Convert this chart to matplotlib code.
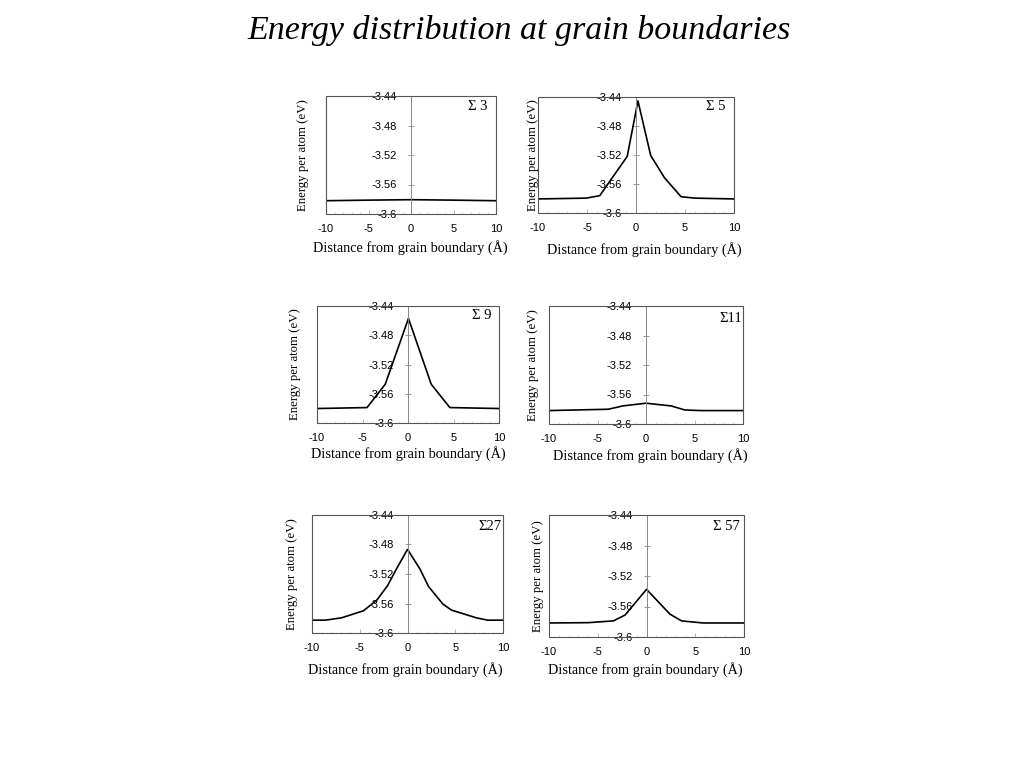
import matplotlib
matplotlib.use("Agg")
import matplotlib.pyplot as plt
from matplotlib.patches import Rectangle

plt.rcParams['axes.unicode_minus'] = False

title = "Energy distribution at grain boundaries"
xlabel = "Distance from grain boundary (Å)"
ylabel = "Energy per atom (eV)"
yticks = [-3.6, -3.56, -3.52, -3.48, -3.44]
ytick_labels = ["-3.6", "-3.56", "-3.52", "-3.48", "-3.44"]
xticks = [-10, -5, 0, 5, 10]
xtick_labels = ["-10", "-5", "0", "5", "10"]

labels = ["Σ 3", "Σ 5", "Σ 9", "Σ11", "Σ27", "Σ 57"]

x_s3 = [-10, -5, 0, 5, 10]
y_s3 = [-3.582, -3.5812, -3.5806, -3.5812, -3.582]

x_s5 = [-10, -5.1, -3.7, -0.9, 0.2, 1.5, 2.9, 4.6, 6.0, 10]
y_s5 = [-3.5806, -3.5795, -3.5761, -3.522, -3.4454, -3.5207, -3.5513, -3.5775, -3.5795, -3.5806]

x_s9 = [-10, -4.5, -2.5, 0.05, 2.55, 4.6, 10]
y_s9 = [-3.5802, -3.5789, -3.547, -3.457, -3.547, -3.5789, -3.5802]

x_s11 = [-10, -3.9, -2.4, 0.0, 2.6, 4.0, 5.7, 10]
y_s11 = [-3.5818, -3.58, -3.5755, -3.5718, -3.5755, -3.581, -3.5818, -3.5818]

x_s27 = [-10, -8.6, -6.9, -4.6, -3.2, -2.1, -1.1, 0.0, 1.3, 2.2, 3.7, 4.6, 7.2, 8.4, 10]
y_s27 = [-3.5826, -3.5826, -3.5794, -3.5698, -3.5552, -3.536, -3.5118, -3.4866,
         -3.5131, -3.5369, -3.5607, -3.5689, -3.5794, -3.5826, -3.5826]

x_s57 = [-10, -6.0, -3.4, -2.2, 0.0, 2.4, 3.6, 5.8, 10]
y_s57 = [-3.5816, -3.5812, -3.5789, -3.5712, -3.5375, -3.57, -3.5789, -3.5816, -3.5816]

series = [(x_s3, y_s3), (x_s5, y_s5), (x_s9, y_s9), (x_s11, y_s11), (x_s27, y_s27), (x_s57, y_s57)]

# layout (pixels)
boxes = [(326, 496, 96, 214), (538, 734, 97, 213),
         (317, 499, 306, 423), (549, 743, 306, 424),
         (312, 503, 515, 633), (549, 744, 515, 637)]
ylab_x = [303, 533, 295, 533, 292, 538]
xlab_pos = [(410, 248), (644, 250), (408, 454), (650, 456), (405, 670), (645, 670)]
sig_right = [488, 726, 492, 742, 501, 740]
sig_y = [107, 106, 316, 318, 526, 526]

W, H = 1024, 768
fig = plt.figure(figsize=(W / 100, H / 100), dpi=100)
fig.text(519 / W, 1 - 30 / H, title, ha='center', va='center', fontsize=24.5,
         family='Liberation Serif', style='italic')

for i, ((l, r, t, b), (xs, ys), lab) in enumerate(zip(boxes, series, labels)):
    ax = fig.add_axes([l / W, 1 - b / H, (r - l) / W, (b - t) / H])
    ax.set_xlim(-10, 10)
    ax.set_ylim(-3.6, -3.44)
    ax.plot(xs, ys, color='black', lw=1.2)
    for s in ['top', 'right', 'bottom']:
        ax.spines[s].set_visible(False)
    ax.spines['left'].set_position(('data', 0))
    ax.spines['left'].set_color('#888888')
    ax.spines['left'].set_linewidth(0.7)
    ax.add_patch(Rectangle((0, 0), 1, 1, transform=ax.transAxes, fill=False,
                           edgecolor='#555555', lw=0.8, clip_on=False, zorder=5))
    ax.set_yticks(yticks)
    ax.set_yticklabels(ytick_labels, family='Liberation Sans', fontsize=8)
    ax.tick_params(axis='y', direction='inout', length=4, width=0.6, color='#888888', pad=8)
    ax.set_xticks(xticks)
    ax.set_xticklabels(xtick_labels, family='Liberation Sans', fontsize=8)
    ax.set_xticks(range(-10, 11), minor=True)
    ax.tick_params(axis='x', which='major', direction='in', length=3, width=0.5,
                   color='#999999', pad=7)
    ax.tick_params(axis='x', which='minor', direction='in', length=1.5, width=0.4,
                   color='#bbbbbb')
    xl, yl = xlab_pos[i]
    fig.text(xl / W, 1 - yl / H, xlabel, ha='center', va='center',
             family='Liberation Serif', fontsize=10.3)
    fig.text(ylab_x[i] / W, 1 - (t + b) / 2 / H, ylabel, rotation=90, ha='center',
             va='center', family='Liberation Serif', fontsize=9.2)
    fig.text(sig_right[i] / W, 1 - sig_y[i] / H, lab, ha='right', va='center',
             family='Liberation Serif', fontsize=10.5)

fig.savefig("out.png", dpi=100)
